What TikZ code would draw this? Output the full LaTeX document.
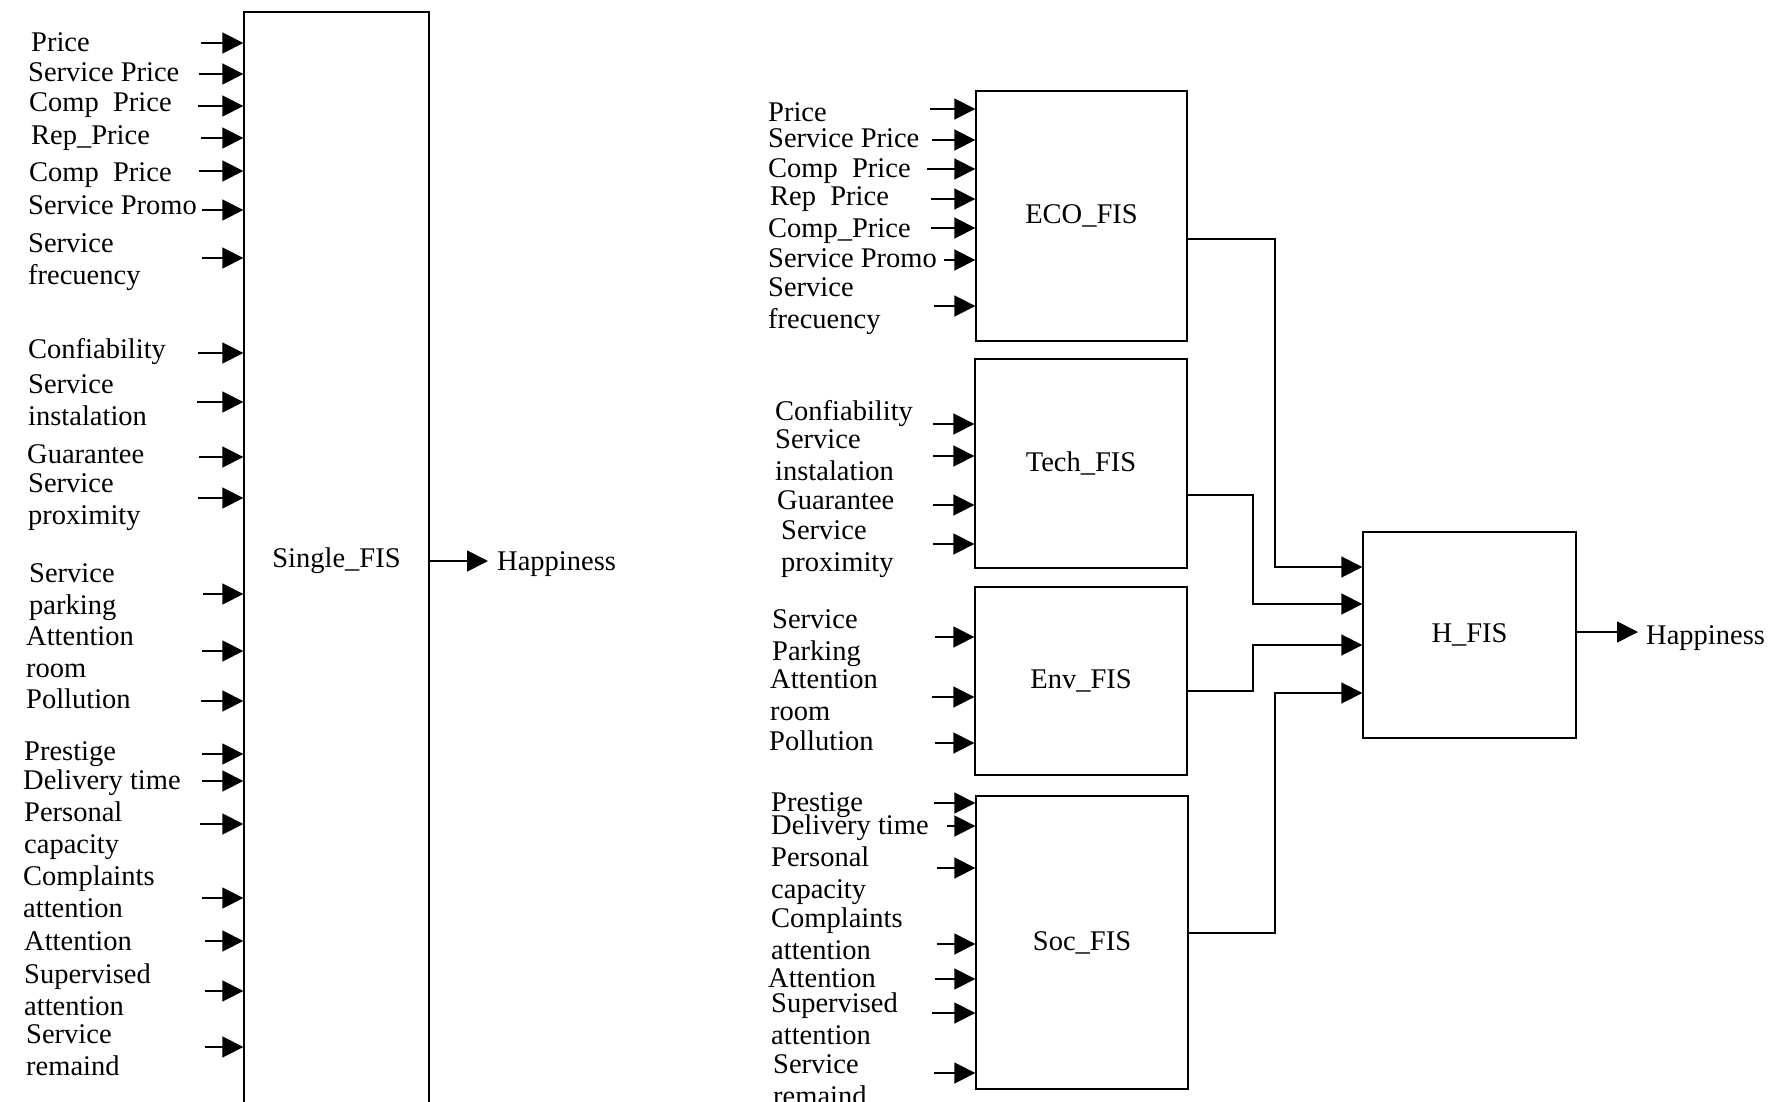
\documentclass[tikz,border=0pt]{standalone}
\usepackage{fontspec}
\setmainfont{Liberation Serif}
\usetikzlibrary{arrows.meta}
\newcommand\stk[1]{\begin{tabular}[t]{@{}l@{}}#1\end{tabular}}
\begin{document}
\begin{tikzpicture}[x=1pt,y=-1pt,
  every node/.style={font=\fontsize{28.5}{32.5}\selectfont},
  fis/.style={draw, line width=1.4pt, inner sep=0pt, rectangle},
  lab/.style={anchor=base west, inner sep=0pt},
  arr/.style={line width=1.8pt, -{Triangle[length=21pt,width=21pt]}},
]
\useasboundingbox (0,0) rectangle (1770,1102);

% ---------------- Boxes ----------------
\node[fis, minimum width=185pt, minimum height=1098pt] (single) at (336.5,561) {Single\_FIS};
\node[fis, minimum width=211pt, minimum height=250pt] (eco) at (1081.5,216) {ECO\_FIS};
\node[fis, minimum width=212pt, minimum height=209pt] (tech) at (1081,463.5) {Tech\_FIS};
\node[fis, minimum width=212pt, minimum height=188pt] (env) at (1081,681) {Env\_FIS};
\node[fis, minimum width=212pt, minimum height=293pt] (soc) at (1082,942.5) {Soc\_FIS};
\node[fis, minimum width=213pt, minimum height=206pt] (hfis) at (1469.5,635) {H\_FIS};

% ---------------- Left labels ----------------
\node[lab] (l1) at (31,52) {Price};
\node[lab] (l2) at (28,82) {Service Price};
\node[lab] (l3) at (29,112) {Comp\ \ Price};
\node[lab] (l4) at (31,145) {Rep\_Price};
\node[lab] (l5) at (29,182) {Comp\ \ Price};
\node[lab] (l6) at (28,215) {Service Promo};
\node[lab] (l7) at (28,252) {\stk{Service\\frecuency}};
\node[lab] (l8) at (28,358) {Confiability};
\node[lab] (l9) at (28,393) {\stk{Service\\instalation}};
\node[lab] (l10) at (27,463) {Guarantee};
\node[lab] (l11) at (28,492) {\stk{Service\\proximity}};
\node[lab] (l12) at (29,582) {\stk{Service\\parking}};
\node[lab] (l13) at (26,645) {\stk{Attention\\room}};
\node[lab] (l14) at (26,708) {Pollution};
\node[lab] (l15) at (24,760) {Prestige};
\node[lab] (l16) at (23,789) {Delivery time};
\node[lab] (l17) at (24,821) {\stk{Personal\\capacity}};
\node[lab] (l18) at (23,885) {\stk{Complaints\\attention}};
\node[lab] (l19) at (24,950) {Attention};
\node[lab] (l20) at (24,983) {\stk{Supervised\\attention}};
\node[lab] (l21) at (26,1043) {\stk{Service\\remaind}};

% ---------------- Right labels ----------------
\node[lab] (r1) at (768,122) {Price};
\node[lab] (r2) at (768,148) {Service Price};
\node[lab] (r3) at (768,178) {Comp\ \ Price};
\node[lab] (r4) at (770,206) {Rep\ \ Price};
\node[lab] (r5) at (768,237) {Comp\_Price};
\node[lab] (r6) at (768,267) {Service Promo};
\node[lab] (r7) at (768,296) {\stk{Service\\frecuency}};
\node[lab] (r8) at (775,420) {Confiability};
\node[lab] (r9) at (775,448) {\stk{Service\\instalation}};
\node[lab] (r10) at (777,509) {Guarantee};
\node[lab] (r11) at (781,539) {\stk{Service\\proximity}};
\node[lab] (r12) at (772,628) {\stk{Service\\Parking}};
\node[lab] (r13) at (770,688) {\stk{Attention\\room}};
\node[lab] (r14) at (769,750) {Pollution};
\node[lab] (r15) at (771,811) {Prestige};
\node[lab] (r16) at (771,834) {Delivery time};
\node[lab] (r17) at (771,866) {\stk{Personal\\capacity}};
\node[lab] (r18) at (771,927) {\stk{Complaints\\attention}};
\node[lab] (r19) at (768,987) {Attention};
\node[lab] (r20) at (771,1012) {\stk{Supervised\\attention}};
\node[lab] (r21) at (773,1073) {\stk{Service\\remaind}};

% ---------------- Outputs ----------------
\node[lab] (hap1) at (497,570) {Happiness};
\node[lab] (hap2) at (1646,644) {Happiness};

% ---------------- Input arrows ----------------
\foreach \x/\y [count=\i] in {201/43,199/74,198/106,201/138,199/171,202/210,202/258,
  198/353,197/402,199/457,198/498,203/594,202/651,201/701,
  202/754,202/781,200/824,202/898,205/941,205/991,205/1047}{
  \coordinate (sa\i) at (\x,\y);
  \draw[arr] (sa\i) -- (sa\i -| single.west);
}
\foreach \x/\y [count=\i] in {930/109,932/140,927/169,931/199,931/228,944/260,934/306}{
  \coordinate (ea\i) at (\x,\y);
  \draw[arr] (ea\i) -- (ea\i -| eco.west);
}
\foreach \x/\y [count=\i] in {933/424,933/456,933/505,933/544}{
  \coordinate (ta\i) at (\x,\y);
  \draw[arr] (ta\i) -- (ta\i -| tech.west);
}
\foreach \x/\y [count=\i] in {935/637,932/697,935/743}{
  \coordinate (va\i) at (\x,\y);
  \draw[arr] (va\i) -- (va\i -| env.west);
}
\foreach \x/\y [count=\i] in {934/803,947/826,937/868,937/944,935/979,932/1013,934/1073}{
  \coordinate (oa\i) at (\x,\y);
  \draw[arr] (oa\i) -- (oa\i -| soc.west);
}

% ---------------- Connections to H_FIS ----------------
\coordinate (j1) at (1275,567);
\coordinate (j2) at (1253,604);
\coordinate (j3) at (1253,645);
\coordinate (j4) at (1275,693);
\draw[arr] (eco.east |- 0,239) -| (j1) -- (j1 -| hfis.west);
\draw[arr] (tech.east |- 0,495) -| (j2) -- (j2 -| hfis.west);
\draw[arr] (env.east |- 0,691) -| (j3) -- (j3 -| hfis.west);
\draw[arr] (soc.east |- 0,933) -| (j4) -- (j4 -| hfis.west);

% ---------------- Output arrows ----------------
\draw[arr, shorten >=9pt] (single.east |- 0,561) -- (hap1.west |- 0,561);
\draw[arr, shorten >=8pt] (hfis.east |- 0,632) -- (hap2.west |- 0,632);
\end{tikzpicture}
\end{document}
